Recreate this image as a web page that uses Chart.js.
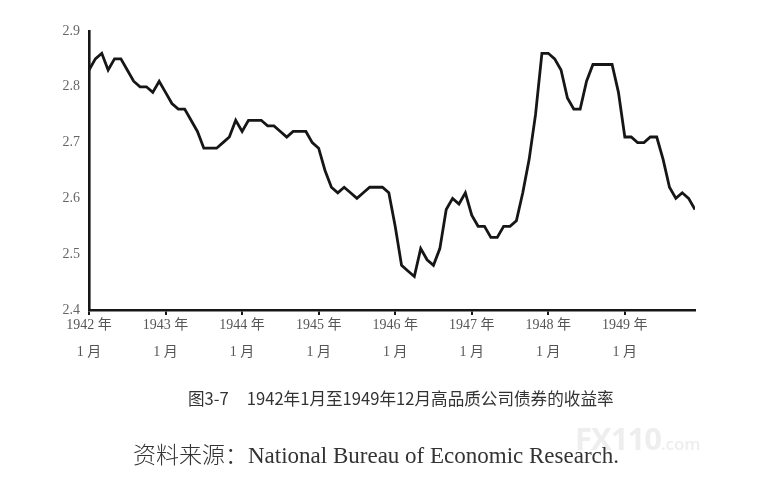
<!DOCTYPE html>
<html>
<head>
<meta charset="utf-8">
<script src="https://cdn.jsdelivr.net/npm/chart.js@4"></script>
<style>
  body { margin: 0; background: #fff; }
  #wrap { position: relative; width: 760px; height: 490px; }
  #chart { position: absolute; left: 0; top: 0; }
  .cap { position: absolute; white-space: nowrap; color: #333; }
  #caption { left: 188px; top: 386px; font: 16.6px "Noto Sans CJK SC", "Noto Sans", sans-serif; }
  #caption .gap { display: inline-block; width: 18px; }
  #source { left: 133px; top: 436px; font: 23px "Liberation Serif", "Noto Sans CJK SC", serif; }
  #source .cjk { font-family: "Noto Sans CJK SC", sans-serif; font-weight: 300; }
  #mark { left: 575px; top: 417px; color: #eeeeee; font: bold 31px "Open Sans", sans-serif; letter-spacing: -1px; }
  #mark small { font-size: 17px; font-weight: 600; letter-spacing: 0; }
</style>
</head>
<body>
<div id="wrap">
  <canvas id="chart" width="760" height="490"></canvas>
  <div class="cap" id="mark">FX110<small>.com</small></div>
  <div class="cap" id="caption">图3-7<span class="gap"></span>1942年1月至1949年12月高品质公司债券的收益率</div>
  <div class="cap" id="source"><span class="cjk">资料来源：</span>National Bureau of Economic Research.</div>
</div>
<script>
// 年份刻度（每年1月）
const years = ["1942", "1943", "1944", "1945", "1946", "1947", "1948", "1949"];
const yTicks = [2.4, 2.5, 2.6, 2.7, 2.8, 2.9];

// 月度收益率，1942年1月至1949年12月
const yields1942 = [2.83, 2.85, 2.86, 2.83, 2.85, 2.85, 2.83, 2.81, 2.80, 2.80, 2.79, 2.81];
const yields1943 = [2.79, 2.77, 2.76, 2.76, 2.74, 2.72, 2.69, 2.69, 2.69, 2.70, 2.71, 2.74];
const yields1944 = [2.72, 2.74, 2.74, 2.74, 2.73, 2.73, 2.72, 2.71, 2.72, 2.72, 2.72, 2.70];
const yields1945 = [2.69, 2.65, 2.62, 2.61, 2.62, 2.61, 2.60, 2.61, 2.62, 2.62, 2.62, 2.61];
const yields1946 = [2.55, 2.48, 2.47, 2.46, 2.51, 2.49, 2.48, 2.51, 2.58, 2.60, 2.59, 2.61];
const yields1947 = [2.57, 2.55, 2.55, 2.53, 2.53, 2.55, 2.55, 2.56, 2.61, 2.67, 2.75, 2.86];
const yields1948 = [2.86, 2.85, 2.83, 2.78, 2.76, 2.76, 2.81, 2.84, 2.84, 2.84, 2.84, 2.79];
const yields1949 = [2.71, 2.71, 2.70, 2.70, 2.71, 2.71, 2.67, 2.62, 2.60, 2.61, 2.60, 2.58];

const yields = [].concat(yields1942, yields1943, yields1944, yields1945,
  yields1946, yields1947, yields1948, yields1949);

const points = yields.map((v, i) => ({ x: i, y: v }));

new Chart(document.getElementById("chart"), {
  type: "line",
  data: {
    datasets: [{
      data: points,
      borderColor: "#161616",
      borderWidth: 2.8,
      pointRadius: 0,
      tension: 0,
      fill: false
    }]
  },
  options: {
    responsive: false,
    animation: false,
    events: [],
    layout: { padding: { left: 0, top: 31, right: 65, bottom: 120 } },
    plugins: { legend: { display: false }, tooltip: { enabled: false } },
    scales: {
      x: {
        type: "linear",
        min: 0,
        max: yields.length - 1,
        afterBuildTicks: (scale) => {
          scale.ticks = years.map((y, i) => ({ value: i * 12 }));
        },
        afterFit: (scale) => { scale.height = 60; },
        ticks: {
          autoSkip: false,
          maxRotation: 0,
          padding: -3,
          color: "#555",
          font: { family: "'Liberation Serif', 'Noto Sans CJK SC', serif", size: 14, lineHeight: 1.9 },
          callback: (value) => [years[value / 12] + " 年", "1 月"]
        },
        grid: { drawOnChartArea: false, drawTicks: true, tickLength: 5, color: "#161616", lineWidth: 2 },
        border: { display: true, color: "#161616", width: 2.6 }
      },
      y: {
        min: 2.4,
        max: 2.9,
        afterBuildTicks: (scale) => {
          scale.ticks = yTicks.map((v) => ({ value: v }));
        },
        afterFit: (scale) => { scale.width = 89; },
        ticks: {
          padding: 9,
          color: "#666",
          font: { family: "'Liberation Serif', serif", size: 14 },
          callback: (value) => value.toFixed(1)
        },
        grid: { drawOnChartArea: false, drawTicks: false },
        border: { display: true, color: "#161616", width: 2.6 }
      }
    }
  }
});
</script>
</body>
</html>
